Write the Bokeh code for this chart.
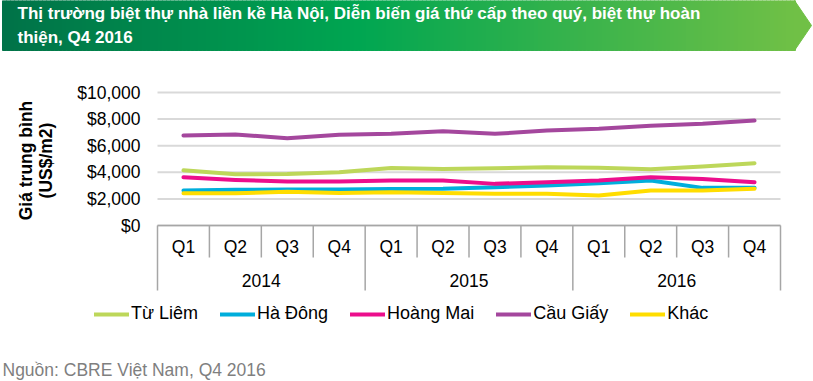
import math
from bokeh.plotting import figure
from bokeh.models import Range1d, Legend, LegendItem
from bokeh.core.properties import value
from bokeh.embed import file_html
from bokeh.resources import INLINE

# ---------------- data ----------------
title_lines = [
    "Thị trường biệt thự nhà liền kề Hà Nội, Diễn biến giá thứ cấp theo quý, biệt thự hoàn",
    "thiện, Q4 2016",
]
years = ["2014", "2015", "2016"]
quarters = ["Q1", "Q2", "Q3", "Q4"]
series_names = ["Từ Liêm", "Hà Đông", "Hoàng Mai", "Cầu Giấy", "Khác"]
tu_liem = [4150, 3850, 3880, 4000, 4330, 4250, 4300, 4380, 4340, 4230, 4430, 4680]
ha_dong = [2630, 2680, 2700, 2700, 2750, 2760, 2880, 3000, 3180, 3380, 2830, 2830]
hoang_mai = [3630, 3430, 3300, 3300, 3380, 3380, 3130, 3260, 3380, 3630, 3500, 3260]
cau_giay = [6770, 6840, 6560, 6820, 6900, 7090, 6890, 7140, 7270, 7500, 7650, 7890]
khac = [2430, 2430, 2530, 2450, 2500, 2450, 2380, 2380, 2260, 2630, 2630, 2760]
y_ticks = [0, 2000, 4000, 6000, 8000, 10000]
y_title_lines = ["Giá trung bình", "(US$/m2)"]
source_text = "Nguồn: CBRE Việt Nam, Q4 2016"

series_values = [tu_liem, ha_dong, hoang_mai, cau_giay, khac]
series_colors = ["#BDD75A", "#00AEDC", "#EC0E8C", "#A4479D", "#FFDD00"]

# ---------------- layout (screen pixels) ----------------
W, H = 813, 381
PLOT_L, PLOT_R = 157, 780      # plot area left / right
PLOT_TOP, PLOT_ZERO = 92, 225  # top tick / zero line
FONT = "Liberation Sans"

n = len(years) * len(quarters)
unit_per_px = y_ticks[-1] / (PLOT_ZERO - PLOT_TOP)

def dx(px):
    return (px - PLOT_L) / (PLOT_R - PLOT_L) * n

def dy(py):
    return (PLOT_ZERO - py) * unit_per_px

p = figure(width=W, height=H, x_range=Range1d(dx(0), dx(W)), y_range=Range1d(dy(H), dy(0)),
           output_backend="svg", toolbar_location=None, x_axis_location=None,
           y_axis_location=None, min_border=0, outline_line_color=None)
p.xgrid.visible = False
p.ygrid.visible = False

# ---------------- banner ----------------
stops = [(0.0, (0, 114, 72)), (0.45, (0, 166, 81)), (1.0, (112, 192, 70))]
def grad(t):
    for (t0, c0), (t1, c1) in zip(stops[:-1], stops[1:]):
        if t <= t1:
            f = (t - t0) / (t1 - t0)
            return "#%02x%02x%02x" % tuple(int(round(a + (b - a) * f)) for a, b in zip(c0, c1))
    return "#%02x%02x%02x" % stops[-1][1]

B_L, B_R, B_TIP, B_BOT = 2, 795, 811, 50
step = 4
lefts = list(range(B_L, B_R, step))
rights = [min(l + step, B_R) for l in lefts]
cols = [grad((l - B_L + step / 2) / (B_R - B_L)) for l in lefts]
p.quad(left=[dx(v) for v in lefts], right=[dx(v) for v in rights],
       top=[dy(0)] * len(lefts), bottom=[dy(B_BOT)] * len(lefts),
       fill_color=cols, line_color=cols, line_width=1)
p.patch([dx(B_R - 1), dx(B_TIP), dx(B_R - 1)], [dy(0), dy(B_BOT / 2), dy(B_BOT)],
        fill_color=grad(1.0), line_color=grad(1.0))
p.text(x=[dx(17), dx(17)], y=[dy(13), dy(37)], text=title_lines, text_color="white",
       text_font=value(FONT), text_font_style="bold", text_font_size="17px",
       text_baseline="middle", text_align="left")

# ---------------- value axis ----------------
p.segment(x0=[0] * len(y_ticks), x1=[n] * len(y_ticks), y0=y_ticks, y1=y_ticks,
          line_color="#d9d9d9", line_width=2)
p.text(x=[0] * len(y_ticks), y=y_ticks, text=["${:,}".format(v) for v in y_ticks],
       x_offset=-17, text_align="right", text_baseline="middle",
       text_font=value(FONT), text_font_size="17.5px", text_color="#000000")
p.text(x=[dx(25), dx(45)], y=[dy(160), dy(160)], text=y_title_lines, angle=math.pi / 2,
       text_align="center", text_baseline="middle", text_font=value(FONT),
       text_font_style="bold", text_font_size="17.5px", text_color="#000000")

# ---------------- category axis (multi-level) ----------------
bounds = list(range(n + 1))
depths = [dy(290) if b % len(quarters) == 0 else dy(257) for b in bounds]
p.segment(x0=bounds, y0=[0] * len(bounds), x1=bounds, y1=depths, line_color="#a6a6a6", line_width=1.5)
p.segment(x0=[0], y0=[0], x1=[n], y1=[0], line_color="#a6a6a6", line_width=1.5)
xs = [i + 0.5 for i in range(n)]
q_labels = [q for _ in years for q in quarters]
p.text(x=xs, y=[0] * n, text=q_labels, y_offset=21, text_align="center", text_baseline="middle",
       text_font=value(FONT), text_font_size="17.5px", text_color="#000000")
year_x = [i * len(quarters) + len(quarters) / 2 for i in range(len(years))]
p.text(x=year_x, y=[0] * len(years), text=years, y_offset=55, text_align="center",
       text_baseline="middle", text_font=value(FONT), text_font_size="17.5px", text_color="#000000")

# ---------------- series ----------------
renderers = []
for name, vals, col in zip(series_names, series_values, series_colors):
    r = p.line(xs, vals, line_color=col, line_width=4, line_join="round", line_cap="round")
    renderers.append(r)

legend = Legend(items=[LegendItem(label=nm, renderers=[r]) for nm, r in zip(series_names, renderers)],
                orientation="horizontal", location=(94, H - 324), padding=0, margin=0,
                glyph_width=35, glyph_height=20, label_height=20, label_standoff=2, spacing=22,
                label_text_font=FONT, label_text_font_size="18px", label_text_color="#000000",
                border_line_color=None, background_fill_alpha=0)
p.add_layout(legend, "center")

# ---------------- source ----------------
p.text(x=[dx(2)], y=[dy(369)], text=[source_text], text_align="left", text_baseline="middle",
       text_font=value(FONT), text_font_size="17.5px", text_color="#7f7f7f")

open("out.html", "w").write(file_html(p, INLINE))
